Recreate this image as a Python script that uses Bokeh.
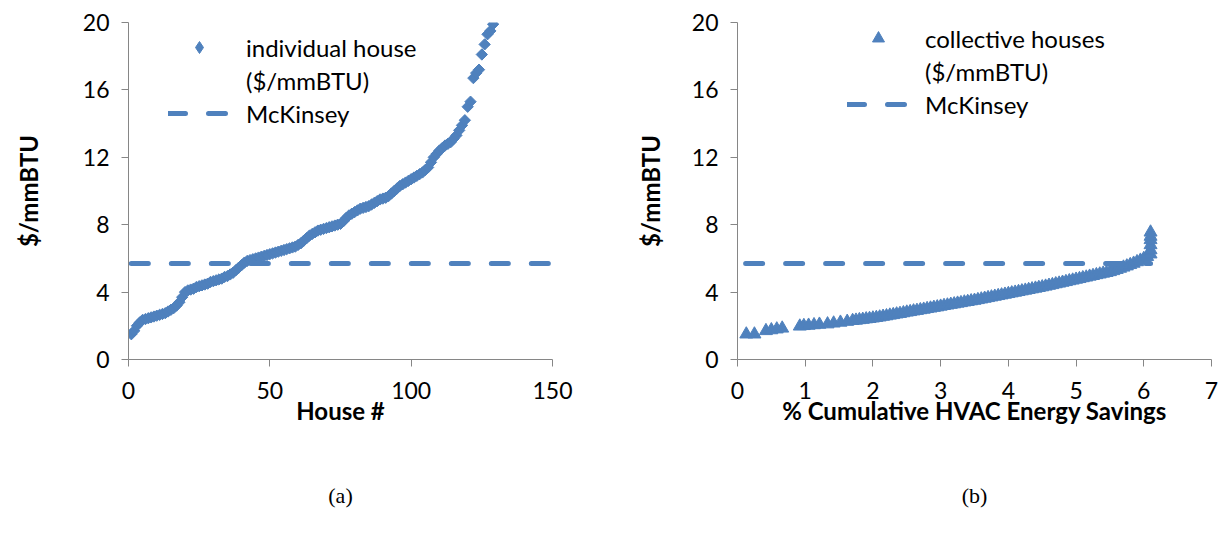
from bokeh.plotting import figure
from bokeh.layouts import row
from bokeh.models import Legend, LegendItem, Title, FixedTicker, Range1d, ColumnDataSource
from bokeh.embed import file_html
from bokeh.resources import INLINE

# ---------------- data ----------------
house_no = list(range(1, 130))
house_cost = [1.5, 1.7, 2.0, 2.2, 2.35, 2.4, 2.45, 2.5, 2.55, 2.6,
              2.65, 2.7, 2.75, 2.85, 2.95, 3.05, 3.2, 3.4, 3.7, 4.0,
              4.1, 4.15, 4.2, 4.3, 4.35, 4.4, 4.45, 4.5, 4.6, 4.65,
              4.7, 4.75, 4.8, 4.9, 4.95, 5.05, 5.15, 5.3, 5.45, 5.6,
              5.75, 5.85, 5.9, 5.95, 6.0, 6.05, 6.1, 6.15, 6.2, 6.25,
              6.3, 6.35, 6.4, 6.45, 6.5, 6.55, 6.6, 6.65, 6.7, 6.8,
              6.9, 7.05, 7.2, 7.35, 7.45, 7.55, 7.65, 7.7, 7.75, 7.8,
              7.85, 7.9, 7.95, 8.0, 8.05, 8.2, 8.4, 8.55, 8.65, 8.75,
              8.85, 8.95, 9.0, 9.05, 9.1, 9.2, 9.3, 9.4, 9.5, 9.55,
              9.6, 9.7, 9.85, 10.0, 10.15, 10.3, 10.4, 10.5, 10.6, 10.7,
              10.8, 10.9, 11.0, 11.1, 11.25, 11.4, 11.7, 12.0, 12.2, 12.4,
              12.55, 12.7, 12.8, 12.9, 13.1, 13.3, 13.6, 13.9, 14.2, 15.0,
              15.3, 16.7, 17.0, 17.2, 18.1, 18.7, 19.3, 19.5, 19.9]

mck_left_x = [1, 150]
mck_value = 5.7

coll_savings = [0.13, 0.25, 0.42, 0.50, 0.58, 0.66, 0.92, 0.98, 1.05, 1.13,
                1.21, 1.33, 1.42, 1.52, 1.62,
                1.70, 1.75, 1.80, 1.85, 1.90, 1.95, 2.00, 2.05, 2.10, 2.15,
                2.20, 2.25, 2.30, 2.35, 2.40, 2.45, 2.50, 2.55, 2.60, 2.65,
                2.70, 2.75, 2.80, 2.85, 2.90, 2.95, 3.00, 3.05, 3.10, 3.15,
                3.20, 3.25, 3.30, 3.35, 3.40, 3.45, 3.50, 3.55, 3.60, 3.65,
                3.70, 3.75, 3.80, 3.85, 3.90, 3.95, 4.00, 4.05, 4.10, 4.15,
                4.20, 4.25, 4.30, 4.35, 4.40, 4.45, 4.50, 4.55, 4.60, 4.65,
                4.70, 4.75, 4.80, 4.85, 4.90, 4.95, 5.00, 5.05, 5.10, 5.15,
                5.20, 5.25, 5.30, 5.35, 5.40, 5.45, 5.50, 5.55, 5.60, 5.65,
                5.70, 5.75, 5.80, 5.85, 5.90, 5.95, 6.00, 6.05, 6.10, 6.10,
                6.10, 6.10, 6.10, 6.10]
coll_cost = [1.5, 1.5, 1.7, 1.75, 1.8, 1.85, 1.97, 2.0, 2.02, 2.05,
             2.08, 2.1, 2.15, 2.2, 2.25,
             2.30, 2.32, 2.35, 2.37, 2.40, 2.42, 2.45, 2.48, 2.51, 2.55,
             2.58, 2.62, 2.65, 2.69, 2.72, 2.76, 2.80, 2.83, 2.87, 2.90,
             2.94, 2.97, 3.01, 3.04, 3.08, 3.11, 3.15, 3.19, 3.22, 3.26,
             3.29, 3.33, 3.36, 3.40, 3.43, 3.47, 3.50, 3.54, 3.58, 3.62,
             3.66, 3.70, 3.74, 3.78, 3.82, 3.86, 3.90, 3.94, 3.98, 4.02,
             4.06, 4.10, 4.14, 4.18, 4.22, 4.26, 4.30, 4.34, 4.39, 4.43,
             4.48, 4.52, 4.57, 4.61, 4.66, 4.70, 4.75, 4.79, 4.84, 4.88,
             4.93, 4.97, 5.02, 5.06, 5.11, 5.15, 5.20, 5.26, 5.33, 5.40,
             5.47, 5.54, 5.62, 5.70, 5.79, 5.88, 5.98, 6.10, 6.25, 6.5,
             6.8, 7.1, 7.3, 7.55]

mck_right_x = [0.12, 6.1]

y_ticks = [0, 4, 8, 12, 16, 20]
left_x_ticks = [0, 50, 100, 150]
right_x_ticks = [0, 1, 2, 3, 4, 5, 6, 7]

BLUE = "#4F81BD"
AXIS = "#868686"
FONT = "Lato"


def style(p, xticks, xlabel, ystand):
    p.xgrid.visible = False
    p.ygrid.visible = False
    p.outline_line_color = None
    p.xaxis.ticker = FixedTicker(ticks=xticks)
    p.yaxis.ticker = FixedTicker(ticks=y_ticks)
    for ax in (p.xaxis[0], p.yaxis[0]):
        ax.axis_line_color = AXIS
        ax.major_tick_line_color = AXIS
        ax.major_tick_in = 0
        ax.major_tick_out = 7
        ax.minor_tick_line_color = None
        ax.major_label_text_font = FONT
        ax.major_label_text_font_size = "23px"
        ax.major_label_text_color = "#000000"
        ax.axis_label_text_font = FONT
        ax.axis_label_text_font_style = "bold"
        ax.axis_label_text_font_size = "24px"
        ax.axis_label_text_color = "#000000"
    p.xaxis.axis_label = xlabel
    p.yaxis.axis_label = "$/mmBTU"
    p.xaxis.major_label_standoff = 15
    p.yaxis.major_label_standoff = 12
    p.xaxis.axis_label_standoff = -6
    p.yaxis.axis_label_standoff = ystand


def add_legend(p, r_pts, r_dash, r_blank, label1, loc):
    leg = Legend(items=[LegendItem(label=label1, renderers=[r_pts]),
                        LegendItem(label="($/mmBTU)", renderers=[r_blank]),
                        LegendItem(label="McKinsey", renderers=[r_dash])],
                 location=loc)
    leg.border_line_color = None
    leg.background_fill_alpha = 0
    leg.padding = 0
    leg.margin = 0
    leg.spacing = 3
    leg.glyph_width = 62
    leg.glyph_height = 30
    leg.label_height = 30
    leg.label_standoff = 16
    leg.label_text_font = FONT
    leg.label_text_font_size = "24px"
    leg.label_text_color = "#000000"
    p.add_layout(leg)


def caption(p, text):
    spacer = Title(text=" ", text_font_size="1px", standoff=40)
    p.add_layout(spacer, "below")
    t = Title(text=text, align="center", text_font="Liberation Serif",
              text_font_size="22px", text_font_style="normal",
              text_color="#000000", standoff=20)
    p.add_layout(t, "below")


# ---------------- left panel ----------------
p1 = figure(width=592, height=534, x_range=Range1d(0, 150), y_range=Range1d(0, 20),
            output_backend="svg", toolbar_location=None,
            min_border_left=128, min_border_right=40, min_border_top=22, min_border_bottom=175)
style(p1, left_x_ticks, "House #", 37)
src1 = ColumnDataSource(data=dict(x=house_no, y=house_cost))
r1 = p1.scatter("x", "y", source=src1, marker="square", angle=0.785398, size=8,
                fill_color=BLUE, line_color=BLUE, line_width=1)
d1 = p1.line(mck_left_x, [mck_value, mck_value], line_color=BLUE, line_width=5,
             line_dash="17 23", line_cap="round")
b1 = p1.scatter(x=[], y=[], fill_alpha=0, line_alpha=0)
# legend-only diamond key (same data, hidden on the plot)
k1 = p1.scatter("x", "y", source=src1, marker="diamond", size=17,
                fill_color=BLUE, line_color=BLUE, visible=False)
add_legend(p1, k1, d1, b1, "individual house", (40, 231))
caption(p1, "(a)")

# ---------------- right panel ----------------
p2 = figure(width=626, height=534, x_range=Range1d(0, 7), y_range=Range1d(0, 20),
            output_backend="svg", toolbar_location=None,
            min_border_left=145, min_border_right=7, min_border_top=22, min_border_bottom=175)
style(p2, right_x_ticks, "% Cumulative HVAC Energy Savings", 24)
r2 = p2.scatter(coll_savings, coll_cost, marker="triangle", size=13,
                fill_color=BLUE, line_color=BLUE, line_width=1)
d2 = p2.line(mck_right_x, [mck_value, mck_value], line_color=BLUE, line_width=5,
             line_dash="17 23", line_cap="round")
b2 = p2.scatter(x=[], y=[], fill_alpha=0, line_alpha=0)
add_legend(p2, r2, d2, b2, "collective houses", (110, 240))
caption(p2, "(b)")

layout = row(p1, p2)
open("out.html", "w").write(file_html(layout, INLINE))
